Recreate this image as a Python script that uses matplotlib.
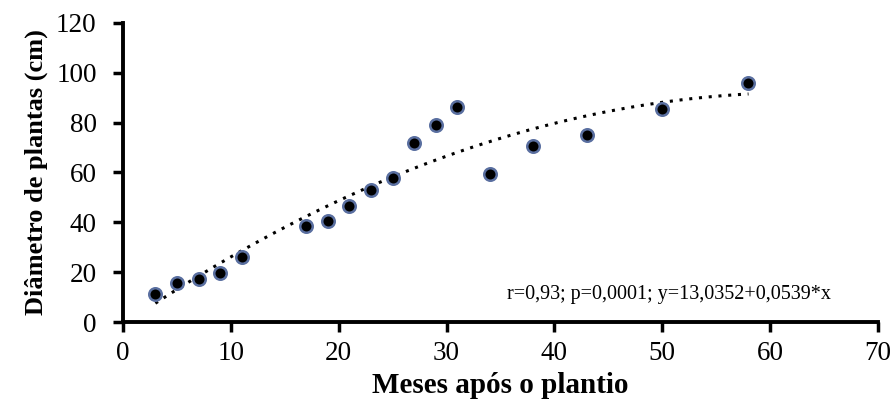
import numpy as np
import matplotlib
matplotlib.use('Agg')
from matplotlib import pyplot as plt

# dados
meses = [3, 5, 7, 9, 11, 17, 19, 21, 23, 25, 27, 29, 31, 34, 38, 43, 50, 58]
diametro = [11.2, 15.7, 17.3, 19.7, 26.1, 38.5, 40.6, 46.6, 53.0, 57.8,
             71.9, 79.1, 86.3, 59.4, 70.7, 75.1, 85.5, 96.0]
x_ticks = [0, 10, 20, 30, 40, 50, 60, 70]
y_ticks = [0, 20, 40, 60, 80, 100, 120]

plt.rcParams['font.family'] = ['Liberation Serif', 'DejaVu Serif']

fig = plt.figure(figsize=(8.94, 4.01), dpi=100)
ax = fig.add_axes([0.1376, 0.197, 0.8444, 0.746])

# linha de tendência (ajuste polinomial)
coef = np.polyfit(meses, diametro, 2)
xs = np.linspace(min(meses), max(meses), 200)
ax.plot(xs, np.polyval(coef, xs), color='black', linestyle=(0, (1, 2.2)), linewidth=2.2)

ax.plot(meses, diametro, linestyle='none', marker='o', markersize=9,
        markerfacecolor='black', markeredgecolor='#5a6fa0', markeredgewidth=1.8)

ax.text(50.6, 11.2, 'r=0,93; p=0,0001; y=13,0352+0,0539*x',
        ha='center', va='center', fontsize=14.5)

ax.set_xlim(0, 70)
ax.set_ylim(0, 120)
ax.set_xticks(x_ticks)
ax.set_yticks(y_ticks)
ax.tick_params(labelsize=19.5, width=2.5, length=7, direction='out')
ax.tick_params(axis='y', pad=12)
ax.tick_params(axis='x', pad=7)
for side in ['top', 'right']:
    ax.spines[side].set_visible(False)
for side in ['left', 'bottom']:
    ax.spines[side].set_linewidth(2.8)

ax.set_xlabel('Meses após o plantio', fontsize=21, fontweight='bold', labelpad=4)
ax.set_ylabel('Diâmetro de plantas (cm)', fontsize=19, fontweight='bold', labelpad=6)

plt.savefig('out.png', dpi=100)
